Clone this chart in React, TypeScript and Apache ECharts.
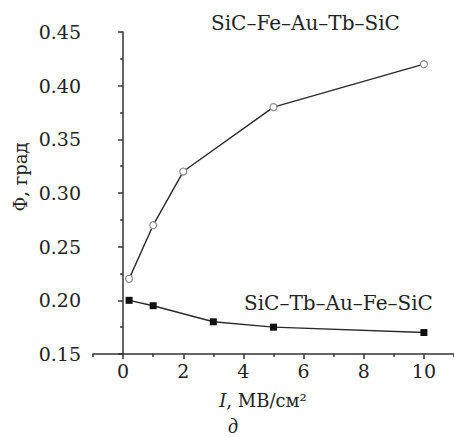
import React, { useEffect, useRef } from "react";
import * as echarts from "echarts";

const upperX = [0.2, 1, 2, 5, 10];
const upperY = [0.22, 0.27, 0.32, 0.38, 0.42];
const lowerX = [0.2, 1, 3, 5, 10];
const lowerY = [0.2, 0.195, 0.18, 0.175, 0.17];
const xMajorTicks = [0, 2, 4, 6, 8, 10];
const xMinorTicks = [-1, 1, 3, 5, 7, 9, 11];
const upperName = "SiC–Fe–Au–Tb–SiC";
const lowerName = "SiC–Tb–Au–Fe–SiC";
const yName = "Φ, град";
const panelLabel = "д";

const FONT = "'DejaVu Serif', serif";
const INK = "#222";

export default function App() {
  const ref = useRef<HTMLDivElement>(null);
  useEffect(() => {
    const chart = echarts.init(ref.current!, null, { renderer: "svg" });
    const axisLineStyle = { color: "#333", width: 1.5 };
    chart.setOption({
      animation: false,
      backgroundColor: "#fff",
      grid: { left: 93, right: 0, top: 32, bottom: 83 },
      xAxis: [
        {
          type: "value",
          min: -1,
          max: 11,
          axisLine: { show: true, lineStyle: axisLineStyle },
          splitLine: { show: false },
          axisTick: { show: true, inside: false, length: 5, customValues: xMajorTicks, lineStyle: axisLineStyle },
          axisLabel: {
            customValues: xMajorTicks,
            margin: 7,
            fontFamily: FONT,
            fontSize: 19,
            color: INK,
          },
        },
        {
          type: "value",
          min: -1,
          max: 11,
          position: "bottom",
          axisLine: { show: false },
          splitLine: { show: false },
          axisTick: { show: true, inside: false, length: 3, customValues: xMinorTicks, lineStyle: axisLineStyle },
          axisLabel: { show: false },
        },
      ],
      yAxis: {
        type: "value",
        min: 0.15,
        max: 0.45,
        interval: 0.05,
        axisLine: { show: true, lineStyle: axisLineStyle },
        splitLine: { show: false },
        axisTick: { show: true, inside: false, length: 5, lineStyle: axisLineStyle },
        minorTick: { show: true, splitNumber: 2, length: 3, lineStyle: axisLineStyle },
        axisLabel: {
          margin: 12,
          fontFamily: FONT,
          fontSize: 19,
          color: INK,
          formatter: (v: number) => v.toFixed(2),
        },
      },
      series: [
        {
          type: "line",
          data: upperX.map((x, i) => [x, upperY[i]]),
          symbol: "circle",
          symbolSize: 7,
          lineStyle: { color: "#2a2a2a", width: 1.4 },
          itemStyle: { color: "#fff", borderColor: "#8a8a8a", borderWidth: 1.2 },
          z: 3,
        },
        {
          type: "line",
          data: lowerX.map((x, i) => [x, lowerY[i]]),
          symbol: "rect",
          symbolSize: 7,
          lineStyle: { color: "#2a2a2a", width: 1.4 },
          itemStyle: { color: "#111" },
          z: 3,
        },
      ],
      graphic: [
        {
          type: "text",
          left: 211,
          top: 13,
          style: { text: upperName, font: `20px ${FONT}`, fill: INK },
        },
        {
          type: "text",
          left: 244,
          top: 293,
          style: { text: lowerName, font: `20px ${FONT}`, fill: INK },
        },
        {
          type: "text",
          x: 20,
          y: 177,
          rotation: Math.PI / 2,
          style: {
            text: yName,
            font: `18px ${FONT}`,
            fill: INK,
            align: "center",
            verticalAlign: "middle",
          },
        },
        {
          type: "text",
          x: 263,
          y: 400,
          style: {
            text: "{i|I}, МВ/см²",
            font: `18px ${FONT}`,
            fill: INK,
            align: "center",
            verticalAlign: "middle",
            rich: { i: { fontFamily: FONT, fontSize: 18, fontStyle: "italic", fill: INK } },
          },
        },
        {
          type: "text",
          x: 233,
          y: 426,
          style: {
            text: panelLabel,
            font: `italic 20px 'Liberation Serif'`,
            fill: INK,
            align: "center",
            verticalAlign: "middle",
          },
        },
      ],
    });
    return () => chart.dispose();
  }, []);
  return (
    <div
      ref={ref}
      style={{ position: "fixed", left: 0, top: 0, width: 454, height: 437 }}
    />
  );
}
